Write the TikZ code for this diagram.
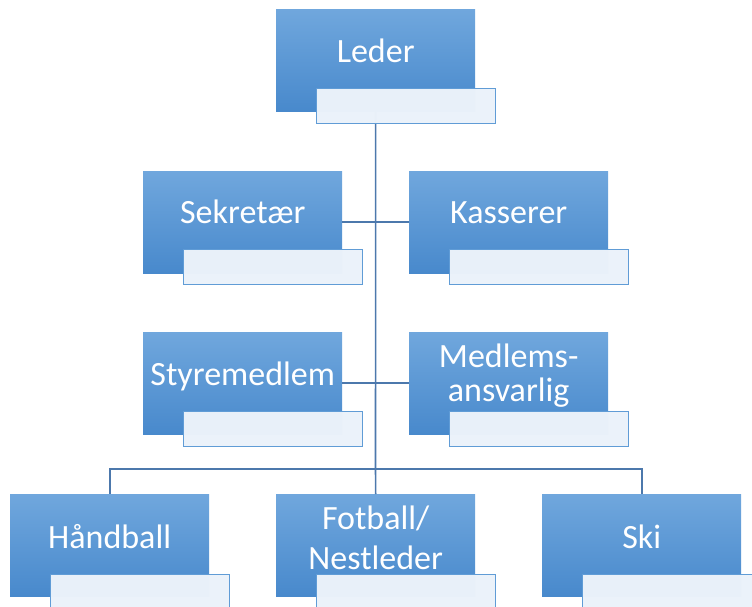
\documentclass[tikz,border=0pt]{standalone}
\usepackage{fontspec}
\setmainfont{Carlito}
\definecolor{boxtop}{RGB}{112,167,221}
\definecolor{boxmid}{RGB}{86,155,219}
\definecolor{boxbot}{RGB}{72,137,204}
\definecolor{lblue}{RGB}{235,242,250}
\definecolor{tborder}{RGB}{96,156,214}
\definecolor{cline}{RGB}{76,120,172}
\tikzset{
  box/.style={rectangle, minimum width=199pt, minimum height=102pt, inner sep=0pt,
    top color=boxtop, middle color=boxmid, bottom color=boxbot, draw=none, anchor=north west},
  tbox/.style={rectangle, minimum width=179pt, minimum height=35pt, inner sep=0pt,
    fill=lblue, fill opacity=0.985, draw=tborder, draw opacity=1, line width=1.3pt, anchor=north west},
  lbl/.style={text=white, font=\fontsize{34}{34}\selectfont, align=center, anchor=base, inner sep=0pt},
  conn/.style={draw=cline, line width=1.6pt}
}
\begin{document}
\begin{tikzpicture}[x=1pt,y=-1pt]
\useasboundingbox (0,0) rectangle (752,607);
\clip (0,0) rectangle (752,607);
\coordinate (bus) at (375.5,469);
% boxes
\node[box] (leder) at (276,9) {};
\node[box] (sek) at (143,171) {};
\node[box] (kas) at (409,171) {};
\node[box] (sty) at (143,332) {};
\node[box] (med) at (409,332) {};
\node[box] (hand) at (10,494) {};
\node[box] (fot) at (276,494) {};
\node[box] (ski) at (542,494) {};
% connectors
\draw[conn] (leder.south) -- (bus);
\draw[conn] (sek.east) -- (sek.east -| bus);
\draw[conn] (kas.west) -- (kas.west -| bus);
\draw[conn] (sty.east) -- (sty.east -| bus);
\draw[conn] (med.west) -- (med.west -| bus);
\draw[conn] (bus) -| (hand.north);
\draw[conn] (bus) -| (ski.north);
\draw[conn] (bus) -- (fot.north);
% text boxes
\node[tbox] (lederT) at (316,88) {};
\node[tbox] (sekT) at (183,249) {};
\node[tbox] (kasT) at (449,249) {};
\node[tbox] (styT) at (183,411) {};
\node[tbox] (medT) at (449,411) {};
\node[tbox] (handT) at (50,574) {};
\node[tbox] (fotT) at (316,574) {};
\node[tbox] (skiT) at (582,574) {};
% labels
\node[lbl] (lederL) at ([yshift=-53.5pt]leder.north) {Leder};
\node[lbl] (sekL) at ([yshift=-52pt]sek.north) {Sekretær};
\node[lbl] (kasL) at ([yshift=-52pt]kas.north) {Kasserer};
\node[lbl] (styL) at ([yshift=-53pt]sty.north) {Styremedlem};
\node[lbl] (medL) at ([yshift=-69.7pt]med.north) {Medlems-\\ansvarlig};
\node[lbl] (handL) at ([yshift=-54pt]hand.north) {Håndball};
\node[lbl] (fotL) at ([yshift=-75pt]fot.north) {Fotball/\\[6pt]Nestleder};
\node[lbl] (skiL) at ([yshift=-54pt]ski.north) {Ski};
\end{tikzpicture}
\end{document}
